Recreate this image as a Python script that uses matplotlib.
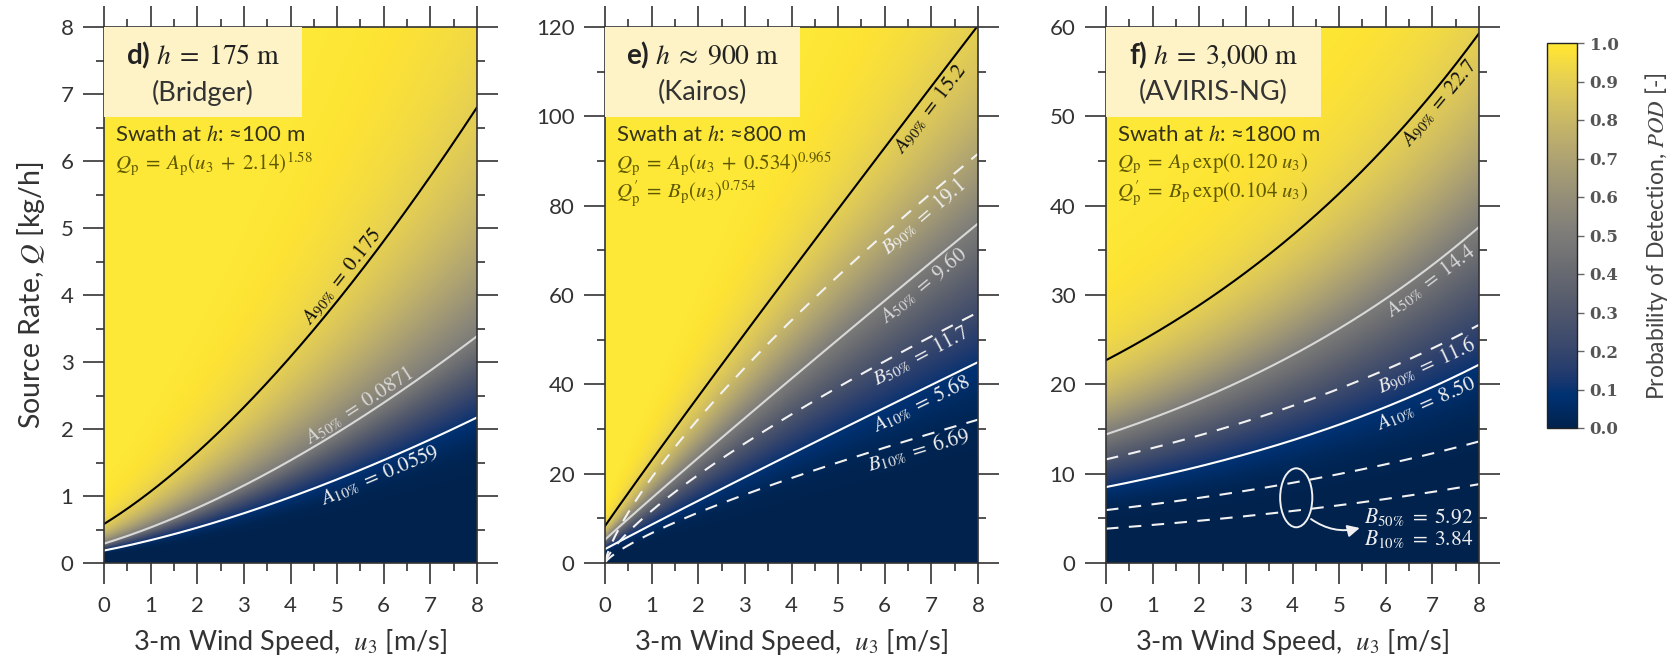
import math
import numpy as np
import matplotlib
matplotlib.use("Agg")
import matplotlib.pyplot as plt
from matplotlib.patches import Rectangle, Ellipse
from matplotlib.ticker import MultipleLocator

plt.rcParams['font.family'] = ['Lato', 'DejaVu Sans']
plt.rcParams['mathtext.fontset'] = 'stix'

# ---- data ----
u_max = 8
wind = np.linspace(0, u_max, 400)

panel_ids = ["d)", "e)", "f)"]
heights = [r"$h\; =\; 175\ \mathrm{m}$", r"$h\; \approx\; 900\ \mathrm{m}$", r"$h\; =\; 3{,}000\ \mathrm{m}$"]
platforms = ["(Bridger)", "(Kairos)", "(AVIRIS-NG)"]
swaths = ["Swath at $h$: ≈100 m", "Swath at $h$: ≈800 m", "Swath at $h$: ≈1800 m"]
q_max = [8, 120, 60]
q_major = [1, 20, 10]
q_minor = [0.5, 10, 5]

# POD levels 10%, 50%, 90%
A_d = [0.0559, 0.0871, 0.175]
A_e = [5.68, 9.60, 15.2]
B_e = [6.69, 11.7, 19.1]
A_f = [8.50, 14.4, 22.7]
B_f = [3.84, 5.92, 11.6]

# fitted shapes of Q_p(u3)
d_shift, d_pow = 2.14, 1.58
e_shift, e_pow = 0.534, 0.965
e_pow_b = 0.754
f_rate, f_rate_b = 0.120, 0.104

formulas = [
    [r"$Q_\mathrm{p}\; =\; A_\mathrm{p}(u_3\; +\; 2.14)^{1.58}$"],
    [r"$Q_\mathrm{p}\; =\; A_\mathrm{p}(u_3\; +\; 0.534)^{0.965}$",
     r"$Q^{\prime}_\mathrm{p}\; =\; B_\mathrm{p}(u_3)^{0.754}$"],
    [r"$Q_\mathrm{p}\; =\; A_\mathrm{p}\,\exp(0.120\ u_3)$",
     r"$Q^{\prime}_\mathrm{p}\; =\; B_\mathrm{p}\,\exp(0.104\ u_3)$"],
]
box_w = [0.531, 0.524, 0.576]


def shape_d(u):
    return (u + d_shift) ** d_pow


def shape_e(u):
    return (u + e_shift) ** e_pow


def shape_e_b(u):
    return u ** e_pow_b


def shape_f(u):
    return np.exp(f_rate * u)


def shape_f_b(u):
    return np.exp(f_rate_b * u)


erf = np.vectorize(math.erf)


def pod_field(U, Q, A, shape):
    a10, a50, a90 = A
    z = np.log(np.maximum(Q, 1e-9) / shape(U))
    m = np.log(a50)
    s = np.where(z < m, (m - np.log(a10)) / 1.2816, (np.log(a90) - m) / 1.2816)
    return 0.5 * (1 + erf((z - m) / s / np.sqrt(2)))


fig = plt.figure(figsize=(16.73, 6.57), dpi=100)
lefts = [104, 605, 1106]
axes = []
for lx in lefts:
    axes.append(fig.add_axes([lx / 1673, 1 - 563 / 657, 373 / 1673, 536 / 657]))

tick_col = '#333333'


def curve_label(ax, fn, coef, u0, text, color, off, size=15):
    p0 = ax.transData.transform((u0, coef * fn(u0)))
    p1 = ax.transData.transform((u0 + 0.02, coef * fn(u0 + 0.02)))
    d = p1 - p0
    d = d / np.hypot(*d)
    ang = math.degrees(math.atan2(d[1], d[0]))
    nrm = np.array([-d[1], d[0]])
    pos = ax.transData.inverted().transform(p0 + nrm * off)
    ax.text(pos[0], pos[1], text, color=color, fontsize=size, rotation=ang,
            rotation_mode='anchor', ha='center', va='center')


shapes_A = [shape_d, shape_e, shape_f]
A_all = [A_d, A_e, A_f]
lab_u = [[5.8, 5.6, 5.3], [6.65, 6.65, 6.75], [6.75, 6.8, 6.95]]
lab_off = [[-12, 11, 12], [-12, -12, -12], [-12, -12, -12]]
names = ["10", "50", "90"]
line_cols = ['white', '#d8d8d8', 'black']
lab_cols = ['#f0f0f0', '#d8d8d8', '#111111']

for i, ax in enumerate(axes):
    qm = q_max[i]
    qq = np.linspace(0, qm, 400)
    U, Q = np.meshgrid(wind, qq)
    P = pod_field(U, Q, A_all[i], shapes_A[i])
    im = ax.imshow(P, origin='lower', extent=[0, u_max, 0, qm], aspect='auto',
                   cmap='cividis', vmin=0, vmax=1, interpolation='bilinear')
    ax.set_xlim(0, u_max)
    ax.set_ylim(0, qm)

    for k, a in enumerate(A_all[i]):
        ax.plot(wind, a * shapes_A[i](wind), color=line_cols[k], lw=1.5)
        fmt = f"{a:g}" if i == 0 else (f"{a:.2f}" if a < 10 else f"{a:.1f}")
        curve_label(ax, shapes_A[i], a, lab_u[i][k],
                    r"$A_{%s\%%}\; =\; %s$" % (names[k], fmt), lab_cols[k], lab_off[i][k])

    # title box
    ax.add_patch(Rectangle((0, 1 - 0.168), box_w[i], 0.168, transform=ax.transAxes,
                           facecolor='#fdf3c6', edgecolor='none', zorder=3))
    ax.text(box_w[i] / 2, 0.946, panel_ids[i] + " " + heights[i], transform=ax.transAxes,
            ha='center', va='center', fontsize=20, fontweight='bold', color='#222222', zorder=4)
    ax.text(box_w[i] / 2, 0.877, platforms[i], transform=ax.transAxes,
            ha='center', va='center', fontsize=19.5, color='#333333', zorder=4)
    ax.text(0.03, 0.798, swaths[i], transform=ax.transAxes, ha='left', va='center',
            fontsize=16, color='#34321a', zorder=4)
    for j, ftxt in enumerate(formulas[i]):
        ax.text(0.03, 0.745 - 0.056 * j, ftxt, transform=ax.transAxes, ha='left', va='center',
                fontsize=15, color='#5e5800', zorder=4)

    ax.xaxis.set_major_locator(MultipleLocator(1))
    ax.xaxis.set_minor_locator(MultipleLocator(0.5))
    ax.yaxis.set_major_locator(MultipleLocator(q_major[i]))
    ax.yaxis.set_minor_locator(MultipleLocator(q_minor[i]))
    ax.tick_params(which='both', direction='out', top=True, right=True, color=tick_col, width=1.2)
    ax.tick_params(which='major', length=15, labelsize=16, labelcolor=tick_col)
    ax.tick_params(which='minor', length=6)
    ax.tick_params(axis='x', which='major', pad=9)
    ax.tick_params(axis='y', which='major', pad=7)
    for sp in ax.spines.values():
        sp.set_color(tick_col)
        sp.set_linewidth(1.2)
    ax.text(0.5, -0.147, r"3-m Wind Speed,  $u_3$ [m/s]", transform=ax.transAxes,
            ha='center', va='center', fontsize=19.5, color=tick_col)

axes[0].text(-0.195, 0.5, r"Source Rate, $Q$ [kg/h]", transform=axes[0].transAxes,
             rotation=90, ha='center', va='center', fontsize=20.5, color=tick_col)

# B (dashed) curves
for k, b in enumerate(B_e):
    axes[1].plot(wind, b * shape_e_b(wind), color='#f2f2f2', lw=1.5, ls=(0, (6, 5)))
    fmt = f"{b:.2f}" if b < 10 else f"{b:.1f}"
    curve_label(axes[1], shape_e_b, b, 6.65, r"$B_{%s\%%}\; =\; %s$" % (names[k], fmt),
                '#eeeeee', -12)
for k, b in enumerate(B_f):
    axes[2].plot(wind, b * shape_f_b(wind), color='#f2f2f2', lw=1.5, ls=(0, (6, 5)))
curve_label(axes[2], shape_f_b, B_f[2], 6.75, r"$B_{90\%}\; =\; 11.6$", '#eeeeee', -12)

axf = axes[2]
axf.add_patch(Ellipse((4.08, 7.3), 0.69, 6.6, facecolor='none', edgecolor='#f0f0f0', lw=1.4, zorder=5))
axf.annotate("", xy=(5.5, 4.0), xytext=(4.35, 5.1),
             arrowprops=dict(arrowstyle='-|>', color='#f0f0f0', lw=1.4, mutation_scale=18,
                             connectionstyle='arc3,rad=0.25'))
axf.text(7.88, 5.1, r"$B_{50\%}\; =\; 5.92$", ha='right', va='center', fontsize=15.5, color='#eeeeee')
axf.text(7.88, 2.7, r"$B_{10\%}\; =\; 3.84$", ha='right', va='center', fontsize=15.5, color='#eeeeee')

# colorbar
cax = fig.add_axes([1547 / 1673, 1 - 428 / 657, 30 / 1673, 385 / 657])
cb = fig.colorbar(im, cax=cax, ticks=np.linspace(0, 1, 11))
cb.ax.set_yticklabels([f"{t:.1f}" for t in np.linspace(0, 1, 11)])
cb.outline.set_edgecolor('#222222')
cb.outline.set_linewidth(1.0)
cb.ax.tick_params(length=5, width=1, color='#666666', labelcolor='#555555', pad=4)
for t in cb.ax.get_yticklabels():
    t.set_fontfamily('DejaVu Serif')
    t.set_fontweight('bold')
    t.set_fontsize(12)
fig.text(1657 / 1673, 1 - 236 / 657, r"Probability of Detection, $POD$ [-]", rotation=90,
         ha='center', va='center', fontsize=16.5, color='#444444')

fig.savefig("out.png", dpi=100)
